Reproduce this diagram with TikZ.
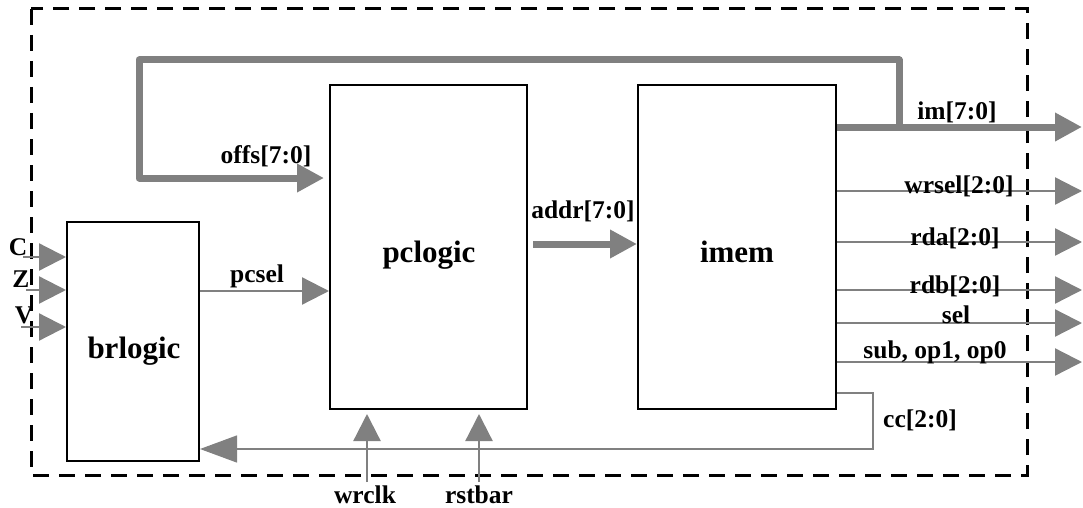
\documentclass[tikz,border=0pt]{standalone}
\usepackage{fontspec}
\setmainfont{Liberation Serif}
\usetikzlibrary{arrows.meta}
\definecolor{wire}{RGB}{128,128,128}
\tikzset{
  blk/.style={draw=black, line width=2pt, inner sep=0pt, anchor=north west},
  lbl/.style={font=\fontsize{25.5}{30}\selectfont\bfseries, inner sep=0pt, anchor=base},
  big/.style={font=\fontsize{31}{36}\selectfont\bfseries, inner sep=0pt, anchor=base},
  sig/.style={draw=wire, line width=2.3pt, -{Triangle[length=27pt,width=27pt]}},
  bus/.style={draw=wire, line width=7pt, line join=round, -{Triangle[length=27pt,width=27pt]}},
  ccwire/.style={draw=wire, line width=1.3pt, -{Triangle[length=37pt,width=27pt]}},
  frame/.style={draw=black, line width=3pt, dash pattern=on 16pt off 10pt},
}
\begin{document}
\begin{tikzpicture}[x=1pt, y=-1pt]
\useasboundingbox (0,0) rectangle (1083,508);

% module boundary
\draw[frame] (31,9) rectangle (1027,475);

% blocks
\node[blk, minimum width=132pt, minimum height=239pt] (brlogic) at (66,221) {};
\node[blk, minimum width=197pt, minimum height=324pt] (pclogic) at (329,84) {};
\node[blk, minimum width=198pt, minimum height=324pt] (imem) at (637,84) {};

\node[big] (brlogic-t) at (134,358) {brlogic};
\node[big] (pclogic-t) at (429,262) {pclogic};
\node[big] (imem-t) at (737,262) {imem};

% status flag inputs
\coordinate (inC) at (23,257);
\coordinate (inZ) at (26,290);
\coordinate (inV) at (21,327);
\draw[sig] (inC) -- (inC -| brlogic.west);
\draw[sig] (inZ) -- (inZ -| brlogic.west);
\draw[sig] (inV) -- (inV -| brlogic.west);
\node[lbl] (lC) at (18,255) {C};
\node[lbl] (lZ) at (21,287) {Z};
\node[lbl] (lV) at (24,323) {V};

% branch select
\coordinate (ps) at (0,291);
\draw[sig] (brlogic.east |- ps) -- (pclogic.west |- ps);
\node[lbl] (lpcsel) at (257,282) {pcsel};

% address bus
\coordinate (ad) at (533,244);
\draw[bus] (ad) -- (imem.west |- ad);
\node[lbl] (laddr) at (583,218) {addr[7:0]};

% immediate bus and offset feedback loop
\coordinate (imo) at (1082,127);
\coordinate (jn) at (899,127);
\coordinate (lp1) at (899,60);
\coordinate (lp2) at (139,60);
\coordinate (lp3) at (139,178);
\draw[bus] (imem.east |- imo) -- (imo);
\draw[bus, shorten >=5pt] (jn) -- (lp1) -- (lp2) -- (lp3) -- (pclogic.west |- lp3);
\node[lbl] (lim) at (957,120) {im[7:0]};
\node[lbl] (loffs) at (266,163) {offs[7:0]};

% control outputs
\coordinate (owr) at (1082,191);
\coordinate (ora) at (1082,242);
\coordinate (orb) at (1082,290);
\coordinate (osel) at (1082,323);
\coordinate (osub) at (1082,362);
\draw[sig] (imem.east |- owr) -- (owr);
\draw[sig] (imem.east |- ora) -- (ora);
\draw[sig] (imem.east |- orb) -- (orb);
\draw[sig] (imem.east |- osel) -- (osel);
\draw[sig] (imem.east |- osub) -- (osub);
\node[lbl] (lwr) at (959,193) {wrsel[2:0]};
\node[lbl] (lra) at (955,245) {rda[2:0]};
\node[lbl] (lrb) at (955,293) {rdb[2:0]};
\node[lbl] (lsel) at (956,323) {sel};
\node[lbl] (lsub) at (935,358) {sub, op1, op0};

% condition code feedback
\coordinate (cc1) at (873,393);
\coordinate (cc2) at (873,449);
\draw[ccwire] (imem.east |- cc1) -- (cc1) -- (cc2) -- (brlogic.east |- cc2);
\node[lbl] (lcc) at (920,427) {cc[2:0]};

% clock and reset
\coordinate (wclk) at (367,482);
\coordinate (rst) at (479,482);
\draw[sig, shorten >=4pt] (wclk) -- (wclk |- pclogic.south);
\draw[sig, shorten >=4pt] (rst) -- (rst |- pclogic.south);
\node[lbl] (lwclk) at (365,503) {wrclk};
\node[lbl] (lrst) at (479,503) {rstbar};
\end{tikzpicture}
\end{document}
